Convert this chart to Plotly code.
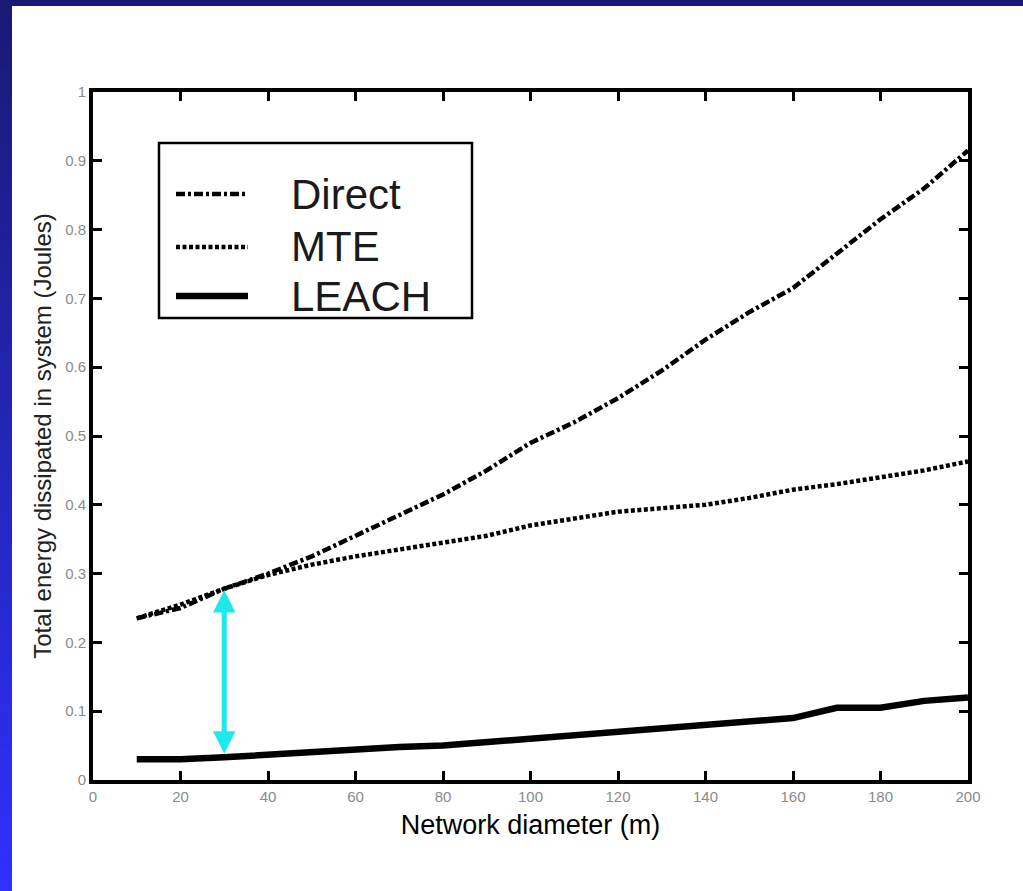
import plotly.graph_objects as go

# ---- data ----
diameter = [10, 20, 30, 40, 50, 60, 70, 80, 90, 100, 110, 120, 130, 140, 150, 160, 170, 180, 190, 200]
direct = [0.235, 0.25, 0.278, 0.30, 0.325, 0.355, 0.385, 0.415, 0.45, 0.49, 0.52, 0.555, 0.595, 0.64,
          0.68, 0.715, 0.765, 0.815, 0.86, 0.915]
mte = [0.235, 0.255, 0.278, 0.298, 0.313, 0.325, 0.335, 0.345, 0.355, 0.37, 0.38, 0.39, 0.395, 0.40,
       0.41, 0.422, 0.43, 0.44, 0.45, 0.463]
leach = [0.03, 0.03, 0.033, 0.037, 0.042, 0.045, 0.048, 0.05, 0.055, 0.06, 0.065, 0.068, 0.073, 0.078,
         0.083, 0.09, 0.105, 0.105, 0.115, 0.12]
series_names = ["Direct", "MTE", "LEACH"]
x_ticks = [0, 20, 40, 60, 80, 100, 120, 140, 160, 180, 200]
y_ticks = [0, 0.1, 0.2, 0.3, 0.4, 0.5, 0.6, 0.7, 0.8, 0.9, 1]
arrow_x = 30
arrow_y = [0.036, 0.276]

W, H = 1023, 891
L, R, T, B = 93, 55, 92, 111
PW, PH = W - L - R, H - T - B
FONT = "Liberation Sans, Arial, Helvetica, sans-serif"


def px_x(px):
    return (px - L) / PW


def px_y(py):
    return (H - B - py) / PH


fig = go.Figure()
styles = [
    dict(color="black", width=4.5, dash="9px,3px,3px,3px"),
    dict(color="black", width=4.5, dash="4px,2.5px"),
    dict(color="black", width=6.5, dash="solid"),
]
for name, ys, st in zip(series_names, [direct, mte, leach], styles):
    fig.add_trace(go.Scatter(x=diameter, y=ys, mode="lines", name=name, line=st, showlegend=False))

shapes = []
# background border: top bar and left gradient strip
shapes.append(dict(type="rect", xref="paper", yref="paper", x0=px_x(0), x1=px_x(W), y0=px_y(6), y1=px_y(0),
                   fillcolor="#191a74", line=dict(width=0), layer="above"))
N = 80
c0 = (25, 26, 116)
c1 = (48, 48, 255)
for i in range(N):
    t = i / (N - 1)
    c = tuple(int(round(c0[k] + (c1[k] - c0[k]) * t)) for k in range(3))
    shapes.append(dict(type="rect", xref="paper", yref="paper", x0=px_x(0), x1=px_x(12),
                       y0=px_y(H * (i + 1) / N + 1), y1=px_y(H * i / N),
                       fillcolor="rgb(%d,%d,%d)" % c, line=dict(width=0), layer="above"))

# legend box
shapes.append(dict(type="rect", xref="paper", yref="paper", x0=px_x(159), x1=px_x(472), y0=px_y(318), y1=px_y(143),
                   fillcolor="white", line=dict(color="black", width=2.5), layer="above"))
leg_y = [194, 247, 296]
annotations = []
for name, st, ly in zip(series_names, styles, leg_y):
    shapes.append(dict(type="line", xref="paper", yref="paper", x0=px_x(176), x1=px_x(248), y0=px_y(ly), y1=px_y(ly),
                       line=dict(color="black", width=st["width"], dash=st["dash"]), layer="above"))
    annotations.append(dict(xref="paper", yref="paper", x=px_x(289), y=px_y(ly), text=name, showarrow=False,
                            xanchor="left", yanchor="middle", font=dict(family=FONT, size=42, color="#1a1a1a")))

# cyan double-headed arrow
annotations.append(dict(x=arrow_x, y=arrow_y[1], ax=arrow_x, ay=arrow_y[0], xref="x", yref="y", axref="x", ayref="y",
                        text="", showarrow=True, arrowhead=2, arrowside="end+start", arrowsize=0.9,
                        arrowwidth=5, arrowcolor="#1ee8ea", standoff=0, startstandoff=0))

fig.update_layout(
    width=W, height=H,
    margin=dict(l=L, r=R, t=T, b=B, pad=0),
    paper_bgcolor="white", plot_bgcolor="white",
    shapes=shapes, annotations=annotations,
    font=dict(family=FONT),
    xaxis=dict(range=[0, 200], tickvals=x_ticks, ticks="inside", ticklen=9, tickwidth=3, tickcolor="black",
               showline=True, linewidth=4, linecolor="black", mirror="ticks", showgrid=False, zeroline=False,
               tickfont=dict(size=15, color="#8a8a8a"),
               title=dict(text="Network diameter (m)", font=dict(size=27, color="black"), standoff=12)),
    yaxis=dict(range=[0, 1], tickvals=y_ticks, ticks="inside", ticklen=9, tickwidth=3, tickcolor="black",
               showline=True, linewidth=4, linecolor="black", mirror="ticks", showgrid=False, zeroline=False,
               tickfont=dict(size=15, color="#8a8a8a"),
               title=dict(text="Total energy dissipated in system (Joules)", font=dict(size=24, color="#222"),
                          standoff=8)),
)

fig.write_html("out.html", config={"displayModeBar": False},
               post_script="document.body.style.margin='0px';document.body.style.overflow='hidden';")
